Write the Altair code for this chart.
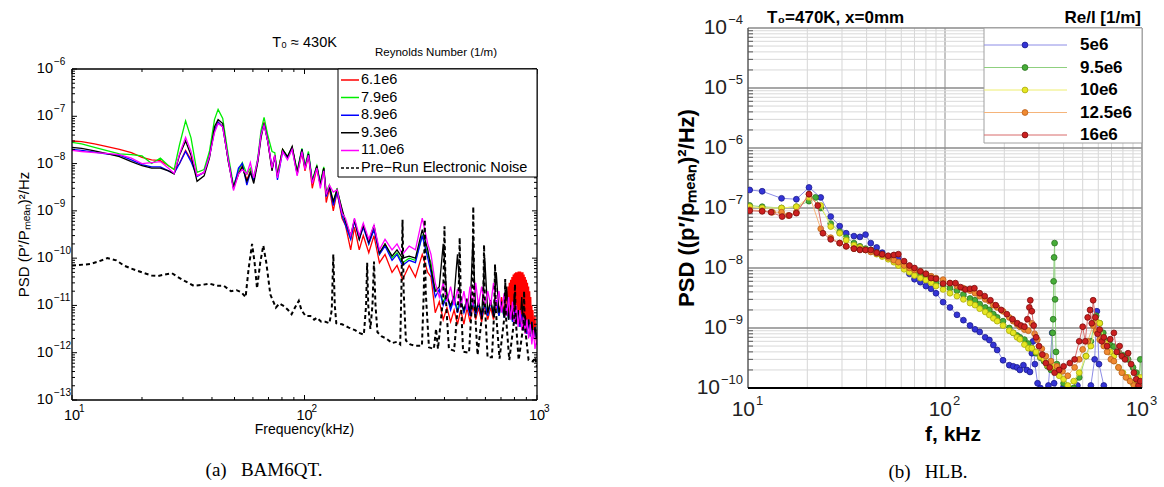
import math
import altair as alt
import pandas as pd

FONT = "Liberation Sans"
SERIF = "Liberation Serif"

# ======================= Panel (a): BAM6QT =======================
A_LABELS = ["6.1e6", "7.9e6", "8.9e6", "9.3e6", "11.0e6"]
A_COLORS = ["#ff0000", "#00ee00", "#0000ff", "#000000", "#ff00ff"]
NOISE_LABEL = "Pre\u2212Run Electronic Noise"

A_FREQ_LOW = [10, 11, 12.5, 14, 16, 18, 20, 22, 24, 26,
              27.5, 29, 30.8, 32.5, 34.5, 37, 39, 41, 42.5, 44.5,
              47, 49.5, 52, 54, 56.5, 58.5, 60.5, 63, 65, 67,
              69.5, 72.5, 74.5, 76.5, 80.5, 84.5, 88.5, 93, 97.5, 100.5,
              104, 108, 113, 117, 121, 124, 128, 133, 138, 145,
              150, 158, 164, 172, 179, 189, 199, 210, 222, 238,
              250, 264, 282, 300, 321, 339]
A_FREQ_HIGH = [350, 365, 380, 395, 410, 425, 440, 455, 470, 485,
               500, 515, 530, 545, 560, 578, 596, 614, 632, 650,
               668, 686, 704, 722, 740, 755, 770, 785, 800, 815,
               830, 845, 860, 875, 890, 905, 920, 935, 950, 965,
               980, 1000]
# the 6.1e6 run has a dense hump between 740 and 960 kHz
A_RED_FREQ_HUMP = list(range(740, 961, 5)) + [970, 980, 990, 1000]

A_RED = [3.0e-8, 2.9e-8, 2.6e-8, 2.3e-8, 2.0e-8, 1.7e-8, 1.35e-8, 1.2e-8, 1.15e-8, 9e-9,
         7.5e-9, 1.0e-8, 1.9e-8, 1.2e-8, 5.5e-9, 6.5e-9, 1.5e-8, 5.0e-8, 7.5e-8, 6.0e-8,
         1.2e-8, 3.0e-9, 6e-9, 9e-9, 4.5e-9, 7e-9, 4.5e-9, 1.2e-8, 4.0e-8, 7.5e-8,
         3.0e-8, 7.5e-9, 1.5e-8, 6e-9, 2.0e-8, 1.3e-8, 2.2e-8, 6e-9, 1.7e-8, 7e-9,
         1.5e-8, 3e-9, 8e-9, 3.5e-9, 8e-9, 1.5e-9, 3e-9, 1.0e-9, 2.5e-9, 7e-10,
         5e-10, 1.5e-10, 4.5e-10, 1.5e-10, 3e-10, 1.3e-10, 3e-10, 8e-11, 1.2e-10, 5e-11,
         7e-11, 3.5e-11, 7e-11, 4e-11, 1.2e-10, 5e-11,
         4e-11, 7e-12, 1.2e-11, 5e-12, 9e-12, 4.5e-12, 8e-12, 4e-12, 8e-12, 4e-12,
         9e-12, 4.5e-12, 1e-11, 5e-12, 9e-12, 4.5e-12, 1e-11, 5e-12, 9e-12, 5e-12,
         1e-11, 6e-12, 1.5e-11, 7e-12]
A_RED_HUMP = [2e-11, 6e-12, 2.5e-11, 6e-12, 3e-11, 5.5e-12, 3.5e-11, 5.5e-12, 4e-11, 5e-12,
              4.5e-11, 5e-12, 4.8e-11, 5e-12, 5e-11, 5e-12, 5e-11, 5e-12, 5.2e-11, 5e-12,
              5.2e-11, 5e-12, 5.2e-11, 4.5e-12, 5e-11, 4.5e-12, 5e-11, 4.5e-12, 4.5e-11, 4e-12,
              4e-11, 4e-12, 3.5e-11, 4e-12, 3e-11, 3.5e-12, 2.5e-11, 3.5e-12, 2e-11, 3e-12,
              1.5e-11, 3e-12, 1e-11, 2.5e-12, 8e-12,
              3e-12, 6e-12, 2e-12, 1.5e-12]
A_GREEN = [2.8e-8, 2.6e-8, 2.2e-8, 1.9e-8, 1.6e-8, 1.55e-8, 1.45e-8, 1.0e-8, 1.3e-8, 9e-9,
           7.5e-9, 2.5e-8, 8.0e-8, 3.5e-8, 6.5e-9, 7.5e-9, 1.8e-8, 8.5e-8, 1.4e-7, 9.0e-8,
           1.5e-8, 3.4e-9, 7e-9, 1.05e-8, 6e-9, 8e-9, 5e-9, 1.3e-8, 5.0e-8, 9.5e-8,
           4.0e-8, 1.8e-8, 1.7e-8, 6e-9, 2.0e-8, 1.4e-8, 2.2e-8, 7e-9, 2.1e-8, 9e-9,
           1.8e-8, 4.5e-9, 9e-9, 4e-9, 8.5e-9, 2.5e-9, 3.5e-9, 1.5e-9, 3e-9, 1.0e-9,
           6e-10, 2.5e-10, 6.5e-10, 2.5e-10, 5e-10, 2e-10, 4.5e-10, 1.2e-10, 2e-10, 1e-10,
           1.3e-10, 8e-11, 1e-10, 9e-11, 3e-10, 1.2e-10,
           8e-11, 2e-11, 2e-11, 1.2e-11, 1.8e-11, 9e-12, 1.5e-11, 8e-12, 1.4e-11, 7e-12,
           1.3e-11, 7e-12, 1.4e-11, 6e-12, 1.2e-11, 6e-12, 1.2e-11, 6e-12, 1.3e-11, 6.5e-12,
           1.2e-11, 6e-12, 1.1e-11, 5.5e-12, 1e-11, 5e-12, 9e-12, 4.5e-12, 8e-12, 4e-12,
           7e-12, 3.5e-12, 6e-12, 3e-12, 5.5e-12, 2.5e-12, 5e-12, 2.2e-12, 4e-12, 2e-12,
           3.5e-12, 2e-12]
A_BLUE = [2.0e-8, 1.9e-8, 1.75e-8, 1.6e-8, 1.5e-8, 1.2e-8, 9.5e-9, 8.5e-9, 8.5e-9, 7e-9,
          6.2e-9, 1.0e-8, 1.8e-8, 1.1e-8, 5.3e-9, 6.5e-9, 1.4e-8, 5.0e-8, 7.5e-8, 6.0e-8,
          1.2e-8, 3.0e-9, 8e-9, 1.0e-8, 3.5e-9, 6.5e-9, 4.5e-9, 1.2e-8, 4.0e-8, 7.0e-8,
          3.0e-8, 8e-9, 1.4e-8, 4.5e-9, 1.8e-8, 1.3e-8, 2.1e-8, 6e-9, 2.0e-8, 8e-9,
          1.6e-8, 4e-9, 8.5e-9, 3.5e-9, 7.5e-9, 2e-9, 3.2e-9, 1.3e-9, 2.5e-9, 8e-10,
          5e-10, 2.5e-10, 6e-10, 2.5e-10, 4.5e-10, 2e-10, 4e-10, 1.2e-10, 1.8e-10, 9e-11,
          1.2e-10, 7e-11, 9e-11, 8e-11, 3e-10, 1e-10,
          5e-11, 1.5e-11, 2.2e-11, 1e-11, 1.6e-11, 8e-12, 1.4e-11, 7e-12, 1.3e-11, 7e-12,
          1.2e-11, 6e-12, 1.3e-11, 6e-12, 1.1e-11, 5.5e-12, 1.1e-11, 6e-12, 1.2e-11, 6e-12,
          1.3e-11, 6e-12, 1.1e-11, 5.5e-12, 1e-11, 5e-12, 9e-12, 4.5e-12, 8e-12, 4e-12,
          7.5e-12, 3.5e-12, 6.5e-12, 3e-12, 6e-12, 2.5e-12, 5e-12, 2.2e-12, 4.5e-12, 2e-12,
          3.5e-12, 1.5e-12]
A_BLACK = [2.2e-8, 2.1e-8, 1.85e-8, 1.65e-8, 1.4e-8, 1.1e-8, 9e-9, 8e-9, 8e-9, 7e-9,
           6.0e-9, 1.5e-8, 3.0e-8, 1.5e-8, 4.2e-9, 5.5e-9, 1.3e-8, 6.0e-8, 8.5e-8, 7.0e-8,
           1.1e-8, 3.2e-9, 6e-9, 8.5e-9, 4.2e-9, 6.5e-9, 3.8e-9, 1.1e-8, 3.5e-8, 7.0e-8,
           3.0e-8, 7e-9, 1.5e-8, 5.5e-9, 2.0e-8, 1.4e-8, 2.3e-8, 6.5e-9, 2.0e-8, 8e-9,
           1.6e-8, 4e-9, 9e-9, 3.5e-9, 8e-9, 2.2e-9, 3.2e-9, 1.6e-9, 2.8e-9, 1.1e-9,
           6e-10, 3e-10, 6.5e-10, 2.5e-10, 5e-10, 2.2e-10, 5e-10, 1.3e-10, 2e-10, 1.1e-10,
           1.5e-10, 1e-10, 1.1e-10, 1e-10, 4e-10, 1.5e-10,
           6e-11, 2e-11, 2.5e-11, 2e-10, 1.5e-11, 1e-11, 1.6e-11, 1.2e-10, 1.2e-11, 8e-12,
           1.4e-11, 7e-12, 2.5e-10, 7e-12, 1.2e-11, 6e-12, 1e-10, 7e-12, 1.3e-11, 6e-12,
           5e-11, 7e-12, 1.2e-11, 6e-12, 2.5e-11, 5e-12, 1e-11, 5e-12, 1.8e-11, 4.5e-12,
           8e-12, 4e-12, 1.5e-11, 3.5e-12, 6e-12, 3e-12, 5e-12, 2.5e-12, 4.5e-12, 2e-12,
           3.5e-12, 1.8e-12]
A_MAGENTA = [1.9e-8, 1.8e-8, 1.7e-8, 1.65e-8, 1.55e-8, 1.3e-8, 1.0e-8, 1.05e-8, 1.1e-8, 8e-9,
             6.2e-9, 1.6e-8, 3.6e-8, 1.8e-8, 5.5e-9, 6.5e-9, 1.4e-8, 4.5e-8, 7.0e-8, 6.0e-8,
             1.2e-8, 2.7e-9, 6e-9, 7.5e-9, 6e-9, 1.05e-8, 5e-9, 1.2e-8, 4.0e-8, 6.5e-8,
             3.0e-8, 8e-9, 1.5e-8, 5e-9, 1.8e-8, 1.2e-8, 2.0e-8, 5.5e-9, 1.8e-8, 7.5e-9,
             1.5e-8, 3.8e-9, 8e-9, 3e-9, 7e-9, 2.2e-9, 3.5e-9, 2.5e-9, 2.8e-9, 9e-10,
             7e-10, 3e-10, 7e-10, 3e-10, 5.5e-10, 2.5e-10, 5e-10, 1.5e-10, 2.5e-10, 1.5e-10,
             2e-10, 1.2e-10, 1.8e-10, 1.5e-10, 7e-10, 2e-10,
             1.2e-10, 3e-11, 1.5e-11, 3e-11, 1.2e-11, 2.5e-11, 1e-11, 2.2e-11, 9e-12, 2e-11,
             8e-12, 2.5e-11, 1e-11, 3e-11, 1e-11, 2.5e-11, 9e-12, 2e-11, 1e-11, 3e-11,
             9e-12, 2e-11, 7e-12, 1.8e-11, 6e-12, 1.5e-11, 5e-12, 1.2e-11, 4e-12, 1e-11,
             3.5e-12, 8e-12, 3e-12, 6e-12, 2.5e-12, 5e-12, 2e-12, 4e-12, 1.5e-12, 3e-12,
             1.2e-12, 2e-12]

NOISE_F = [10, 12, 13, 14.2, 15.5, 16.7, 18, 20, 22, 23.5,
           25, 26.9, 28.5, 30.5, 33.4, 36, 39, 42, 45, 48.3,
           51, 53.5, 55.8, 57.5, 59.5, 61, 62.5, 64.5, 66.5, 68.5,
           71.3, 74, 75.3, 78, 82, 85, 88, 91, 94.5, 97,
           101, 106, 110, 113, 118, 123, 128, 131, 133, 135,
           137, 145, 155, 165, 173, 180, 184, 186, 188, 192,
           196, 199, 202, 206, 215, 225, 238, 250, 258, 261,
           264, 267, 273, 285, 300, 320, 326, 329, 332, 343,
           360, 368, 375, 395, 400, 405, 418, 440, 460, 465,
           470, 481, 510, 527, 532, 537, 555, 587, 592, 597,
           613, 640, 655, 660, 665, 690, 725, 730, 735, 760,
           798, 804, 810, 834, 875, 880, 885, 920, 960, 980,
           1000]
NOISE_V = [7e-11, 7.5e-11, 8.5e-11, 1e-10, 9e-11, 7e-11, 6e-11, 5e-11, 4.3e-11, 4.2e-11,
           4.5e-11, 4.8e-11, 4e-11, 3.3e-11, 2.6e-11, 2.7e-11, 2.9e-11, 2.6e-11, 2.6e-11, 2e-11,
           2.1e-11, 1.9e-11, 1.5e-11, 6e-11, 2e-10, 8e-11, 2.3e-11, 8e-11, 1.85e-10, 8e-11,
           1.7e-11, 1.1e-11, 9e-12, 1.1e-11, 9.5e-12, 8e-12, 6.5e-12, 9e-12, 1.25e-11, 8e-12,
           6e-12, 6e-12, 5e-12, 5.5e-12, 4.5e-12, 4.5e-12, 4.2e-12, 8e-12, 1.2e-10, 1e-11,
           4.2e-12, 4e-12, 3.4e-12, 3e-12, 2.6e-12, 2.4e-12, 1e-11, 8e-11, 1e-11, 3.2e-12,
           1e-11, 8.5e-11, 1e-11, 2.7e-12, 2.2e-12, 2e-12, 1.6e-12, 1.7e-12, 1.5e-12, 2e-11,
           6.5e-10, 2e-11, 1.8e-12, 1.5e-12, 1.4e-12, 1.4e-12, 2e-11, 6.5e-10, 2e-11, 1.3e-12,
           1.2e-12, 3.2e-12, 1.2e-12, 1.5e-11, 4.7e-10, 1.5e-11, 1.2e-12, 1.1e-12, 1.5e-11, 2.7e-10,
           1.5e-11, 1.05e-12, 1e-12, 1.5e-11, 1.23e-9, 1.5e-11, 9e-13, 1e-11, 1.9e-10, 1e-11,
           8e-13, 8e-13, 8e-12, 7.4e-11, 8e-12, 7.5e-13, 6e-12, 3.6e-11, 6e-12, 7e-13,
           5e-12, 2.8e-11, 5e-12, 7e-13, 4e-12, 2e-11, 4e-12, 7e-13, 6.5e-13, 8e-13,
           5e-13]

# ======================= Panel (b): HLB =======================
B_LABELS = ["5e6", "9.5e6", "10e6", "12.5e6", "16e6"]
B_FILL = ["#3434d6", "#46ad38", "#e6e622", "#f08a30", "#cc2020"]
B_EDGE = ["#1c1c8c", "#2b7420", "#a9a90e", "#b85e1c", "#7a0e0e"]
B_LINE = ["#8c8ce6", "#8fd07f", "#eeee70", "#f5b47a", "#d86a6a"]

B1_F = [10.2, 11.8, 14.8, 17.6, 20.4, 23.4, 26.3, 29.2, 31.5, 34.5,
        37, 39.5, 42, 45, 48, 51.5, 55, 58, 62, 66,
        70, 75, 80, 85, 90, 97.8, 106, 115, 124, 134,
        142, 150, 160, 168, 176, 184, 197, 212, 222, 232,
        240, 250, 260, 270, 276, 280, 286, 295, 305, 320,
        335, 350, 358, 375, 400, 430, 470, 500, 550, 575,
        590, 605, 640, 700, 800, 900, 1000]
B1_V = [2.0e-7, 1.9e-7, 1.45e-7, 1.4e-7, 2.2e-7, 1.5e-7, 7.2e-8, 5.0e-8, 3.8e-8, 3.4e-8,
        3.3e-8, 3.6e-8, 2.6e-8, 2.2e-8, 1.8e-8, 1.55e-8, 1.6e-8, 1.5e-8, 1.1e-8, 8e-9,
        6.5e-9, 5.8e-9, 5e-9, 4.5e-9, 3.8e-9, 2.7e-9, 2.2e-9, 1.66e-9, 1.35e-9, 1.1e-9,
        9.5e-10, 8.6e-10, 7e-10, 6.3e-10, 5.2e-10, 4.3e-10, 2.9e-10, 2.4e-10, 2.3e-10, 2.2e-10,
        2.0e-10, 2.4e-10, 2.0e-10, 1.85e-10, 3.8e-10, 6e-10, 2.5e-10, 1.2e-10, 1.0e-10, 8e-11,
        1.1e-10, 8.3e-10, 1.2e-10, 8e-11, 1.05e-10, 8e-11, 1.1e-10, 9e-11, 1.1e-10, 3e-10,
        1.9e-9, 2.5e-10, 1.1e-10, 8e-11, 9e-11, 8e-11, 1e-10]

B2_F = [10.2, 11.8, 14.8, 17.6, 20.4, 22, 23.4, 26.3, 29.2, 31.5,
        34.5, 37, 39.5, 42, 45, 48, 51.5, 55, 58, 62,
        66, 70, 75, 80, 85, 90, 97.8, 106, 115, 124,
        134, 142, 150, 160, 168, 176, 184, 197, 212, 222,
        232, 240, 253, 265, 276, 290, 305, 318, 331, 345,
        352, 354, 356, 358, 360, 362, 366, 370, 385, 400,
        420, 450, 480, 520, 550, 585, 610, 636, 660, 690,
        720, 760, 800, 850, 900, 935, 960, 980, 1000]
B2_V = [1.1e-7, 1.05e-7, 1.0e-7, 1.05e-7, 1.3e-7, 1.5e-7, 1.0e-7, 5.5e-8, 4e-8, 3.2e-8,
        2.6e-8, 2.3e-8, 2.1e-8, 2.0e-8, 1.8e-8, 1.6e-8, 1.5e-8, 1.3e-8, 1.2e-8, 1.1e-8,
        9.5e-9, 8.5e-9, 7.5e-9, 7e-9, 6.4e-9, 5.8e-9, 5.3e-9, 4.6e-9, 4.2e-9, 3.6e-9,
        3.1e-9, 2.9e-9, 2.5e-9, 2.2e-9, 2e-9, 1.7e-9, 1.5e-9, 1.3e-9, 1e-9, 8.3e-10,
        7.5e-10, 7e-10, 6.4e-10, 5.5e-10, 4.6e-10, 3.8e-10, 3.2e-10, 2.8e-10, 2.3e-10, 2e-10,
        8.3e-10, 1.4e-9, 6e-9, 1.5e-8, 2.6e-8, 3e-9, 4e-10, 2.5e-10, 2e-10, 1.2e-10,
        9e-11, 1e-10, 1.5e-10, 3.4e-10, 6e-10, 1.6e-9, 1.2e-9, 8.3e-10, 6e-10, 5.2e-10,
        4.9e-10, 4e-10, 3.5e-10, 3e-10, 2.2e-10, 1.8e-10, 1e-10, 3e-10, 1.2e-10]

B3_F = [10.2, 11.8, 14.8, 17.6, 20.4, 23.4, 26.3, 29.2, 31.5, 34.5,
        37, 39.5, 42, 45, 48, 51.5, 55, 58, 62, 66,
        70, 75, 80, 85, 90, 97.8, 106, 115, 124, 134,
        142, 150, 160, 168, 176, 184, 197, 212, 222, 232,
        240, 253, 265, 276, 290, 305, 318, 331, 345, 360,
        380, 400, 420, 450, 480, 520, 550, 585, 610, 636,
        660, 690, 720, 760, 800, 850, 900, 935, 980, 1000]
B3_V = [1.05e-7, 1.0e-7, 1.0e-7, 1.05e-7, 1.5e-7, 1.1e-7, 4.9e-8, 3.8e-8, 2.9e-8, 2.4e-8,
        2.2e-8, 2.0e-8, 1.9e-8, 1.7e-8, 1.55e-8, 1.4e-8, 1.25e-8, 1.1e-8, 9.5e-9, 8.5e-9,
        7.5e-9, 6.8e-9, 6.3e-9, 5.7e-9, 5e-9, 4.4e-9, 3.8e-9, 3.4e-9, 3.0e-9, 2.6e-9,
        2.4e-9, 2.1e-9, 1.85e-9, 1.65e-9, 1.45e-9, 1.3e-9, 1.1e-9, 9e-10, 8.3e-10, 7e-10,
        6.5e-10, 5.3e-10, 4.6e-10, 4.6e-10, 4e-10, 3.3e-10, 3e-10, 2.4e-10, 2.2e-10, 2.3e-10,
        1.6e-10, 1.4e-10, 1.1e-10, 1.3e-10, 1.8e-10, 3.4e-10, 5e-10, 1.3e-9, 1.2e-9, 7e-10,
        5.5e-10, 4e-10, 3.4e-10, 2.2e-10, 1.8e-10, 1.5e-10, 1.2e-10, 1.1e-10, 1.5e-10, 1e-10]

B4_F = [10.2, 11.8, 13.3, 14.8, 16, 17.6, 20.4, 23.4, 26.3, 29.2,
        31.5, 34.5, 37, 39.5, 42, 45, 48, 51.5, 55, 58,
        62, 66, 70, 75, 80, 85, 90, 97.8, 106, 115,
        124, 134, 142, 150, 160, 168, 176, 184, 197, 212,
        222, 232, 240, 253, 265, 276, 285, 294, 310, 325,
        345, 370, 395, 420, 455, 480, 500, 530, 565, 585,
        610, 640, 665, 695, 720, 760, 790, 830, 870, 910,
        950, 1000]
B4_V = [9.3e-8, 9e-8, 8.5e-8, 8.5e-8, 7.5e-8, 8.5e-8, 1.7e-7, 4.5e-8, 3.2e-8, 2.6e-8,
        2.3e-8, 2.1e-8, 2.05e-8, 2e-8, 1.85e-8, 1.75e-8, 1.65e-8, 1.5e-8, 1.35e-8, 1.25e-8,
        1.1e-8, 1.0e-8, 9.3e-9, 8.8e-9, 8e-9, 7.3e-9, 6.8e-9, 6.4e-9, 5.6e-9, 5e-9,
        4.6e-9, 4.2e-9, 3.8e-9, 3.4e-9, 3e-9, 2.8e-9, 2.4e-9, 2.2e-9, 1.9e-9, 1.5e-9,
        1.3e-9, 1.15e-9, 1.05e-9, 9.4e-10, 9e-10, 1.2e-9, 8e-10, 6.4e-10, 4.5e-10, 3.4e-10,
        2.8e-10, 2.3e-10, 1.9e-10, 1.6e-10, 2.2e-10, 3e-10, 4.4e-10, 6e-10, 1.1e-9, 9e-10,
        6.4e-10, 5e-10, 4e-10, 3e-10, 2.8e-10, 2.2e-10, 1.8e-10, 1.5e-10, 1.3e-10, 1.1e-10,
        1e-10, 9e-11]

B5_F = [10.2, 11.8, 13.1, 14.9, 16.2, 17.6, 20.4, 22.6, 24, 26.3,
        29.2, 31.5, 34.5, 37, 39.5, 42, 45, 48, 51.5, 55,
        58, 62, 66, 70, 75, 80, 85, 90, 97.8, 106,
        113, 120, 127, 134, 141, 150, 159, 170, 181, 193,
        206, 220, 233, 243, 253, 262, 268, 271, 276, 282,
        290, 300, 312, 325, 340, 360, 380, 400, 430, 455,
        480, 500, 515, 530, 545, 556, 565, 580, 595, 610,
        625, 640, 665, 690, 720, 745, 770, 790, 820, 850,
        880, 910, 935, 960, 980, 1000]
B5_V = [9e-8, 8.8e-8, 8.5e-8, 7.2e-8, 7.5e-8, 8.2e-8, 1.7e-7, 1.1e-7, 3.8e-8, 3e-8,
        2.6e-8, 2.3e-8, 2.1e-8, 2e-8, 2e-8, 2e-8, 1.8e-8, 1.7e-8, 1.6e-8, 1.65e-8,
        1.7e-8, 1.3e-8, 1.1e-8, 1e-8, 8.8e-9, 8e-9, 6.8e-9, 6.6e-9, 5.5e-9, 5.6e-9,
        5.6e-9, 4.8e-9, 4.4e-9, 4.5e-9, 4.6e-9, 3.8e-9, 3.4e-9, 2.9e-9, 2.4e-9, 2e-9,
        1.7e-9, 1.4e-9, 1.2e-9, 1.1e-9, 1.05e-9, 1.4e-9, 2.2e-9, 2.9e-9, 1.9e-9, 1.1e-9,
        7e-10, 5e-10, 3.6e-10, 2.6e-10, 2.2e-10, 1.8e-10, 2e-10, 2.3e-10, 2.6e-10, 3e-10,
        6e-10, 1.05e-9, 6e-10, 1.5e-9, 2e-9, 1.2e-9, 2.9e-9, 1.5e-9, 8e-10, 9.4e-10,
        6e-10, 7e-10, 5e-10, 6.5e-10, 8.3e-10, 4e-10, 5e-10, 3.4e-10, 3e-10, 3.8e-10,
        2.5e-10, 1.8e-10, 1.4e-10, 1.1e-10, 1.3e-10, 9e-11]

# tick positions
X_MAJOR = [10, 100, 1000]
X_MINOR = [m * 10 ** e for e in (1, 2) for m in range(2, 10)]
YA_MAJOR = [10.0 ** e for e in range(-13, -5)]
YA_MINOR = [m * 10.0 ** e for e in range(-13, -6) for m in range(2, 10)]
YB_MAJOR = [10.0 ** e for e in range(-10, -3)]
YB_MINOR = [m * 10.0 ** e for e in range(-10, -4) for m in range(2, 10)]

# ======================= helpers =======================
WA, HA = 465, 331
WB, HB = 394, 360
OY = 41            # panel (a) plot area sits this much lower than panel (b)
ONE = pd.DataFrame({"k": [0]})


def exp_text(v):
    return str(int(round(math.log10(v)))).replace("-", "\u2212")


def tick_df(vals):
    return pd.DataFrame({"t": vals, "e": [exp_text(v) for v in vals]})


def txt(text, x, y, size, align="center", weight="normal", angle=0, font=FONT, baseline="middle"):
    return alt.Chart(ONE).mark_text(
        text=text, align=align, baseline=baseline, fontSize=size, fontWeight=weight,
        angle=angle, font=font, color="black"
    ).encode(x=alt.value(x), y=alt.value(y))


xa = alt.Scale(type="log", domain=[10, 1000], nice=False)
ya = alt.Scale(type="log", domain=[1e-13, 1e-6], nice=False, range=[OY + HA, OY])
xb = alt.Scale(type="log", domain=[10, 1000], nice=False)
yb = alt.Scale(type="log", domain=[1e-10, 1e-4], nice=False)

# ======================= Panel (a) =======================
a_layers = []
a_layers.append(alt.Chart(ONE).mark_rule(opacity=0, strokeOpacity=0).encode(
    x=alt.value(-72), x2=alt.value(548), y=alt.value(-28)))

red_df = pd.DataFrame({"f": A_FREQ_LOW + A_FREQ_HIGH[:24] + A_RED_FREQ_HUMP, "v": A_RED + A_RED_HUMP})
series_a = [(A_COLORS[0], red_df)]
for col, vals in zip(A_COLORS[1:], [A_GREEN, A_BLUE, A_BLACK, A_MAGENTA]):
    series_a.append((col, pd.DataFrame({"f": A_FREQ_LOW + A_FREQ_HIGH, "v": vals})))
for col, df in series_a:
    a_layers.append(alt.Chart(df).mark_line(color=col, strokeWidth=1.3, clip=True).encode(
        x=alt.X("f:Q", scale=xa, axis=None), y=alt.Y("v:Q", scale=ya, axis=None)))
a_layers.append(alt.Chart(pd.DataFrame({"f": NOISE_F, "v": NOISE_V})).mark_line(
    color="black", strokeWidth=2, strokeDash=[4, 3], clip=True).encode(
    x=alt.X("f:Q", scale=xa, axis=None), y=alt.Y("v:Q", scale=ya, axis=None)))

# frame
for enc in [dict(x=alt.value(0), x2=alt.value(WA), y=alt.value(OY)),
            dict(x=alt.value(0), x2=alt.value(WA), y=alt.value(OY + HA)),
            dict(x=alt.value(0), y=alt.value(OY), y2=alt.value(OY + HA)),
            dict(x=alt.value(WA), y=alt.value(OY), y2=alt.value(OY + HA))]:
    a_layers.append(alt.Chart(ONE).mark_rule(color="black", strokeWidth=1.3).encode(**enc))

# inward ticks
for vals, ln in [(X_MAJOR, 5), (X_MINOR, 3)]:
    base = alt.Chart(pd.DataFrame({"t": vals})).mark_rule(color="black", strokeWidth=1)
    xe = alt.X("t:Q", scale=xa, axis=None)
    a_layers.append(base.encode(x=xe, y=alt.value(OY + HA), y2=alt.value(OY + HA - ln)))
    a_layers.append(base.encode(x=xe, y=alt.value(OY), y2=alt.value(OY + ln)))
for vals, ln in [(YA_MAJOR, 5), (YA_MINOR, 3)]:
    base = alt.Chart(pd.DataFrame({"t": vals})).mark_rule(color="black", strokeWidth=1)
    ye = alt.Y("t:Q", scale=ya, axis=None)
    a_layers.append(base.encode(y=ye, x=alt.value(0), x2=alt.value(ln)))
    a_layers.append(base.encode(y=ye, x=alt.value(WA), x2=alt.value(WA - ln)))

# tick labels
ya_lab = alt.Chart(tick_df(YA_MAJOR))
a_layers.append(ya_lab.mark_text(align="right", baseline="middle", fontSize=14.5, font=FONT, color="black").encode(
    x=alt.value(-19), y=alt.Y("t:Q", scale=ya, axis=None), text=alt.value("10")))
a_layers.append(ya_lab.mark_text(align="left", baseline="middle", fontSize=10, font=FONT, color="black", dx=1, dy=-7).encode(
    x=alt.value(-19), y=alt.Y("t:Q", scale=ya, axis=None), text="e:N"))
xa_lab = alt.Chart(tick_df(X_MAJOR))
a_layers.append(xa_lab.mark_text(align="center", baseline="middle", fontSize=14.5, font=FONT, color="black").encode(
    x=alt.X("t:Q", scale=xa, axis=None), y=alt.value(OY + HA + 16), text=alt.value("10")))
a_layers.append(xa_lab.mark_text(align="left", baseline="middle", fontSize=10, font=FONT, color="black", dx=7, dy=-7).encode(
    x=alt.X("t:Q", scale=xa, axis=None), y=alt.value(OY + HA + 16), text="e:N"))

# titles
a_layers.append(txt("T\u2080 \u2248 430K", WA / 2, OY - 26, 14.5))
a_layers.append(txt("Reynolds Number (1/m)", 364, OY - 16, 11.5))
a_layers.append(txt("PSD (P\u2032/P\u2098\u2091\u2090\u2099)\u00b2/Hz", -48, OY + HA / 2, 15, angle=270))
a_layers.append(txt("Frequency(kHz)", WA / 2, OY + HA + 30, 14))
a_layers.append(txt("(a)\u00a0\u00a0\u00a0BAM6QT.", 192, OY + 401, 19, font=SERIF))

main_a = alt.layer(*a_layers)

LEG_A = A_LABELS + [NOISE_LABEL]
leg_a_df = pd.DataFrame({"label": LEG_A})
leg_ay = alt.Y("label:N", scale=alt.Scale(type="point", domain=LEG_A, range=[OY + 11, OY + 99], padding=0), axis=None)
legend_a = alt.layer(
    alt.Chart(ONE).mark_rect(fill="white", stroke="black", strokeWidth=1).encode(
        x=alt.value(266), x2=alt.value(WA), y=alt.value(OY), y2=alt.value(OY + 108)),
    alt.Chart(leg_a_df).mark_rule(strokeWidth=1.5).encode(
        x=alt.value(269), x2=alt.value(287), y=leg_ay,
        color=alt.Color("label:N", scale=alt.Scale(domain=LEG_A, range=A_COLORS + ["black"]), legend=None),
        strokeDash=alt.StrokeDash("label:N", scale=alt.Scale(domain=LEG_A, range=[[1, 0]] * 5 + [[3, 2]]), legend=None)),
    alt.Chart(leg_a_df).mark_text(align="left", baseline="middle", fontSize=14.5, font=FONT, color="black").encode(
        x=alt.value(289), y=leg_ay, text="label:N"),
)
panel_a = alt.layer(main_a, legend_a).resolve_scale(y="independent").properties(width=WA, height=OY + HA)

# ======================= Panel (b) =======================
b_layers = []
b_layers.append(alt.Chart(ONE).mark_rule(opacity=0, strokeOpacity=0).encode(
    x=alt.value(-128), x2=alt.value(0), y=alt.value(-28)))
# grid
for vals, col, sw in [(X_MINOR, "#d6d6d6", 1), (X_MAJOR, "#8a8a8a", 1)]:
    b_layers.append(alt.Chart(pd.DataFrame({"t": vals})).mark_rule(color=col, strokeWidth=sw).encode(
        x=alt.X("t:Q", scale=xb, axis=None), y=alt.value(0), y2=alt.value(HB)))
for vals, col, sw in [(YB_MINOR, "#d9d9d9", 1), (YB_MAJOR, "#8a8a8a", 1.5)]:
    b_layers.append(alt.Chart(pd.DataFrame({"t": vals})).mark_rule(color=col, strokeWidth=sw).encode(
        y=alt.Y("t:Q", scale=yb, axis=None), x=alt.value(0), x2=alt.value(WB)))
b_layers.append(alt.Chart(pd.DataFrame({"t": YB_MINOR})).mark_rule(color="#555555", strokeWidth=1).encode(
    y=alt.Y("t:Q", scale=yb, axis=None), x=alt.value(0), x2=alt.value(5)))
# frame
b_layers.append(alt.Chart(ONE).mark_rule(color="#444444", strokeWidth=1).encode(
    x=alt.value(0), y=alt.value(0), y2=alt.value(HB)))
b_layers.append(alt.Chart(ONE).mark_rule(color="#9a9a9a", strokeWidth=1).encode(
    x=alt.value(WB), y=alt.value(0), y2=alt.value(HB)))

for f, v, fc, ec, lc in zip([B1_F, B2_F, B3_F, B4_F, B5_F], [B1_V, B2_V, B3_V, B4_V, B5_V],
                            B_FILL, B_EDGE, B_LINE):
    df = pd.DataFrame({"f": f, "v": v})
    enc = dict(x=alt.X("f:Q", scale=xb, axis=None), y=alt.Y("v:Q", scale=yb, axis=None))
    b_layers.append(alt.Chart(df).mark_line(color=lc, strokeWidth=1, clip=True).encode(**enc))
    b_layers.append(alt.Chart(df).mark_point(filled=True, fill=fc, stroke=ec, strokeWidth=0.8,
                                             size=34, opacity=1, clip=True).encode(**enc))

b_layers.append(alt.Chart(ONE).mark_rule(color="black", strokeWidth=2.2).encode(
    x=alt.value(0), x2=alt.value(WB), y=alt.value(HB)))

# tick labels (b)
yb_base = alt.Chart(tick_df(YB_MAJOR))
ye_b = alt.Y("t:Q", scale=yb, axis=None)
b_layers.append(yb_base.transform_filter("length(datum.e) < 3").mark_text(
    align="right", baseline="middle", fontSize=21, font=FONT, color="#222222").encode(
    x=alt.value(-21), y=ye_b, text=alt.value("10")))
b_layers.append(yb_base.transform_filter("length(datum.e) >= 3").mark_text(
    align="right", baseline="middle", fontSize=21, font=FONT, color="#222222").encode(
    x=alt.value(-28), y=ye_b, text=alt.value("10")))
b_layers.append(yb_base.mark_text(align="right", baseline="middle", fontSize=13, font=FONT,
                                  color="#222222", dy=-8).encode(x=alt.value(-5), y=ye_b, text="e:N"))
xb_base = alt.Chart(tick_df(X_MAJOR))
b_layers.append(xb_base.mark_text(align="right", baseline="middle", fontSize=21, font=FONT,
                                  color="#222222", dx=7).encode(
    x=alt.X("t:Q", scale=xb, axis=None), y=alt.value(HB + 22), text=alt.value("10")))
b_layers.append(xb_base.mark_text(align="left", baseline="middle", fontSize=13, font=FONT,
                                  color="#222222", dx=8, dy=-9).encode(
    x=alt.X("t:Q", scale=xb, axis=None), y=alt.value(HB + 22), text="e:N"))

# titles (b)
b_layers.append(txt("T\u2080=470K, x=0mm", 19, -10, 17, align="left", weight="bold"))
b_layers.append(txt("Re/l [1/m]", WB - 1, -10, 17, align="right", weight="bold"))
b_layers.append(txt("PSD ((p\u2032/p\u2098\u2091\u2090\u2099)\u00b2/Hz)", -61, 180, 22, weight="bold", angle=270))
b_layers.append(txt("f, kHz", 205, HB + 47, 21, weight="bold"))
b_layers.append(txt("(b)\u00a0\u00a0\u00a0HLB.", 180, 444, 19, font=SERIF))

main_b = alt.layer(*b_layers)

leg_b_df = pd.DataFrame({"label": B_LABELS})
leg_by = alt.Y("label:N", scale=alt.Scale(type="point", domain=B_LABELS, range=[17, 107], padding=0), axis=None)
legend_b = alt.layer(
    alt.Chart(ONE).mark_rect(fill="white", stroke="#a0a0a0", strokeWidth=1).encode(
        x=alt.value(236), x2=alt.value(WB), y=alt.value(0), y2=alt.value(115)),
    alt.Chart(leg_b_df).mark_rule(strokeWidth=1).encode(
        x=alt.value(236), x2=alt.value(319), y=leg_by,
        color=alt.Color("label:N", scale=alt.Scale(domain=B_LABELS, range=B_LINE), legend=None)),
    alt.Chart(leg_b_df).mark_point(filled=True, size=34, strokeWidth=0.8, opacity=1).encode(
        x=alt.value(277), y=leg_by,
        fill=alt.Fill("label:N", scale=alt.Scale(domain=B_LABELS, range=B_FILL), legend=None),
        stroke=alt.Stroke("label:N", scale=alt.Scale(domain=B_LABELS, range=B_EDGE), legend=None)),
    alt.Chart(leg_b_df).mark_text(align="left", baseline="middle", fontSize=17, fontWeight="bold",
                                  font=FONT, color="black").encode(
        x=alt.value(332), y=leg_by, text="label:N"),
)
panel_b = alt.layer(main_b, legend_b).resolve_scale(y="independent").properties(width=WB, height=HB)

chart = alt.hconcat(panel_a, panel_b, spacing=0).resolve_scale(
    color="independent", fill="independent", stroke="independent", strokeDash="independent"
).properties(
    padding={"left": 0, "top": 0, "right": 0, "bottom": 0}
).configure_view(strokeWidth=0)

chart.save("out.html", embed_options={"renderer": "svg", "actions": False})
